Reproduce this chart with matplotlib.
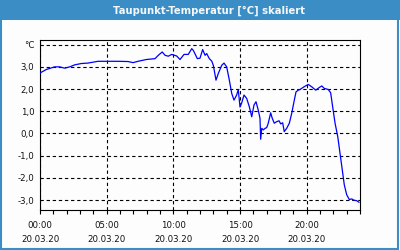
import matplotlib
matplotlib.use("Agg")
import matplotlib.pyplot as plt
from matplotlib.patches import Rectangle
from matplotlib.ticker import MultipleLocator

# time in hours since 00:00 on 20.03.20, dew point in degC
hours = [0.05, 0.47, 1.10, 1.48, 1.85, 2.23, 2.60, 3.10, 3.60, 4.35, 5.10, 5.85,
         6.60, 6.98, 7.35, 7.97, 8.63, 8.87, 9.17, 9.38, 9.62, 9.88, 10.25, 10.50,
         10.80, 11.12, 11.38, 11.50, 11.68, 11.80, 12.00, 12.20, 12.38, 12.50, 12.70,
         12.88, 13.00, 13.20, 13.37, 13.63, 13.80, 14.00, 14.20, 14.38, 14.55, 14.75,
         14.87, 15.00, 15.13, 15.30, 15.50, 15.70, 15.88, 16.05, 16.20, 16.37, 16.50,
         16.55, 16.63, 16.75, 16.88, 17.00, 17.12, 17.30, 17.42, 17.57, 17.75, 17.93,
         18.05, 18.20, 18.32, 18.50, 18.70, 18.88, 19.05, 19.20, 19.37, 19.50, 19.80,
         20.12, 20.38, 20.68, 20.95, 21.13, 21.32, 21.62, 21.80, 21.95, 22.13, 22.33,
         22.50, 22.67, 22.82, 23.00, 23.20, 23.38, 23.55, 23.75, 23.92]
dewpoint = [2.74, 2.88, 3.00, 3.00, 2.94, 3.00, 3.09, 3.15, 3.17, 3.25, 3.25, 3.25,
            3.24, 3.19, 3.25, 3.33, 3.37, 3.52, 3.67, 3.52, 3.48, 3.56, 3.49, 3.33,
            3.56, 3.56, 3.82, 3.74, 3.52, 3.37, 3.39, 3.78, 3.52, 3.60, 3.37,
            3.26, 3.07, 2.40, 2.70, 3.07, 3.17, 3.00, 2.40, 1.80, 1.50, 1.73,
            1.98, 1.19, 1.38, 1.73, 1.58, 1.20, 0.75, 1.28, 1.43, 1.05, 0.68,
            -0.26, 0.23, 0.16, 0.23, 0.26, 0.46, 0.93, 0.68, 0.46, 0.53, 0.57,
            0.43, 0.48, 0.08, 0.23, 0.46, 0.91, 1.43, 1.87, 1.95, 1.98, 2.10,
            2.21, 2.10, 1.95, 2.07, 2.14, 2.03, 1.98, 1.83, 1.20, 0.46, -0.14,
            -0.89, -1.64, -2.31, -2.76, -2.98, -2.95, -3.01, -3.03, -3.10]

x_ticks = [0, 5, 10, 15, 20]
x_labels = ["00:00\n20.03.20", "05:00\n20.03.20", "10:00\n20.03.20",
            "15:00\n20.03.20", "20:00\n20.03.20"]
y_ticks = [-3, -2, -1, 0, 1, 2, 3, 4]
y_labels = ["-3,0", "-2,0", "-1,0", "0,0", "1,0", "2,0", "3,0", "\u00b0C"]
title = "Taupunkt-Temperatur [\u00b0C] skaliert"

bar_blue = "#3b8ec5"
bg = "#fcfdfc"
txt = "#111111"

fig = plt.figure(figsize=(4, 2.5), dpi=100, facecolor=bg)

# title bar and frame
fig.patches.append(Rectangle((0, 0.92), 1, 0.08, transform=fig.transFigure,
                             facecolor=bar_blue, edgecolor="none", zorder=0))
fig.patches.append(Rectangle((0.002, 0.004), 0.994, 0.99, transform=fig.transFigure,
                             facecolor="none", edgecolor=bar_blue, lw=1.5, zorder=1))
fig.text(0.522, 0.958, title, ha="center", va="center", color="#f4f8fb",
         fontsize=7.2, fontweight="bold")

ax = fig.add_axes([0.1, 0.16, 0.8, 0.68], facecolor=bg)
ax.plot(hours, dewpoint, color="#0000ff", lw=0.9, zorder=3)

ax.set_xlim(0, 24)
ax.set_ylim(-3.45, 4.21)
ax.set_xticks(x_ticks)
ax.set_xticklabels(x_labels, fontsize=6.2, color=txt, linespacing=1.7)
ax.xaxis.set_minor_locator(MultipleLocator(1))
ax.set_yticks(y_ticks)
ax.set_yticklabels(y_labels, fontsize=6.2, color=txt)

ax.tick_params(axis="x", which="both", direction="out", length=3, width=0.8, pad=5)
ax.tick_params(axis="y", length=0, pad=4)
ax.grid(True, which="major", color="black", linestyle=(0, (3, 2.5)), lw=0.8)

for s in ax.spines.values():
    s.set_color("black")
    s.set_linewidth(0.8)

fig.savefig("out.png", dpi=100, facecolor=bg)
